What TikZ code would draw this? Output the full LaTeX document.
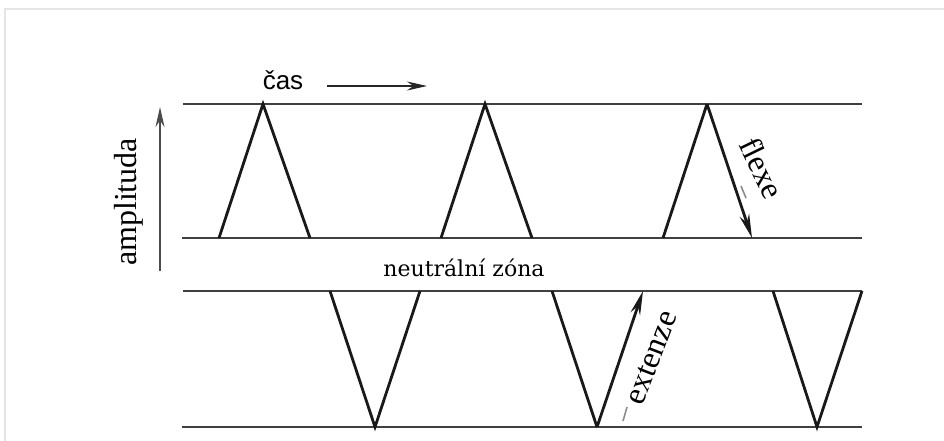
\documentclass[tikz,border=0pt]{standalone}
\usepackage{fontspec}
\setmainfont{Liberation Serif}
\newfontfamily\serf{Liberation Serif}
\newfontfamily\sansf{Liberation Sans}
\newfontfamily\slabf{DejaVu Serif}
\usetikzlibrary{arrows.meta}
\begin{document}
\begin{tikzpicture}[x=1pt,y=-1pt,
  level/.style={draw=black!75,line width=2.4pt},
  wave/.style={draw=black!90,line width=2.8pt,line join=miter},
  arr/.style={-{Stealth[length=24pt,width=10pt]}},
  lbl/.style={inner sep=0pt,font=\serf\fontsize{32}{38}\selectfont},
  tick/.style={draw=black!45,line width=1.6pt}]
\useasboundingbox (0,0) rectangle (944,441);
\draw[draw=black!10,line width=2pt] (5,441) -- (5,9) -- (944,9);
% level coordinates
\coordinate (L1a) at (183,104); \coordinate (L1b) at (862,104);
\coordinate (L2a) at (182,238); \coordinate (L2b) at (862,238);
\coordinate (L3a) at (183,291); \coordinate (L3b) at (862,291);
\coordinate (L4a) at (182,427); \coordinate (L4b) at (862,427);
\draw[level] (L1a) -- (L1b);
\draw[level] (L2a) -- (L2b);
\draw[level] (L3a) -- (L3b);
\draw[level] (L4a) -- (L4b);
% upper triangles
\coordinate (u1l) at (219,238); \coordinate (u1p) at (263,104); \coordinate (u1r) at (310,238);
\coordinate (u2l) at (441,238); \coordinate (u2p) at (485,104); \coordinate (u2r) at (532,238);
\coordinate (u3l) at (663,238); \coordinate (u3p) at (707,104); \coordinate (u3r) at (752,238);
\draw[wave] (u1l) -- (u1p) -- (u1r);
\draw[wave] (u2l) -- (u2p) -- (u2r);
\draw[wave] (u3l) -- (u3p);
\draw[wave,arr] (u3p) -- (u3r);
% lower triangles
\coordinate (d1l) at (330,291); \coordinate (d1b) at (375,427); \coordinate (d1r) at (420,291);
\coordinate (d2l) at (552,291); \coordinate (d2b) at (597,427); \coordinate (d2r) at (643,291);
\coordinate (d3l) at (773,291); \coordinate (d3b) at (817,427); \coordinate (d3r) at (862,291);
\draw[wave] (d1l) -- (d1b) -- (d1r);
\draw[wave] (d2l) -- (d2b);
\draw[wave,arr] (d2b) -- (d2r);
\draw[wave] (d3l) -- (d3b) -- (d3r);
% amplitude axis
\coordinate (a0) at (160,271); \coordinate (a1) at (160,107);
\draw[draw=black!70,line width=2.2pt,-{Stealth[length=20pt,width=9pt]}] (a0) -- (a1);
\node[lbl,rotate=90] (amp) at (129,202) {amplituda};
% time
\node[inner sep=0pt,anchor=base,font=\sansf\fontsize{26}{30}\selectfont] (cas) at (283,90) {čas};
\coordinate (t0) at (327,86); \coordinate (t1) at (427,86);
\draw[draw=black!85,line width=2pt,-{Stealth[length=20pt,width=9pt]}] (t0) -- (t1);
% labels
\node[inner sep=0pt,font=\slabf\fontsize{22}{26}\selectfont] (nz) at (464,268) {neutrální zóna};
\node[lbl,rotate=-64] (flexe) at (762,168) {flexe};
\node[lbl,rotate=69] (ext) at (652,358) {extenze};
% small marks
\coordinate (m1a) at (741,186); \coordinate (m1b) at (746,198);
\coordinate (m2a) at (627,407); \coordinate (m2b) at (623,421);
\draw[tick] (m1a) -- (m1b);
\draw[tick] (m2a) -- (m2b);
\end{tikzpicture}
\end{document}
